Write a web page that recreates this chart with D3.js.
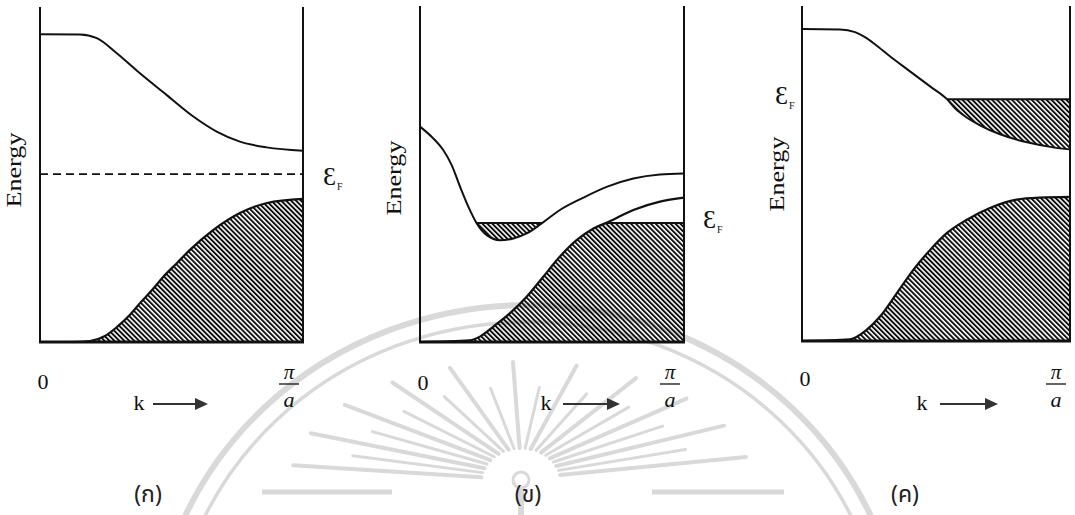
<!DOCTYPE html>
<html>
<head>
<meta charset="utf-8">
<script src="https://cdn.jsdelivr.net/npm/d3@7/dist/d3.min.js"></script>
<style>
  html, body { margin: 0; padding: 0; background: #fff; }
  svg { display: block; }
  .serif { font-family: "Liberation Serif", "Times New Roman", serif; fill: #111; }
  .thai { font-family: "Noto Sans Thai", "Noto Sans", "DejaVu Sans", sans-serif; fill: #222; }
</style>
</head>
<body>
<svg id="chart"></svg>
<script>
const width = 1075;
const height = 515;

// band curves as [k (0..pi/a, normalised), energy (arbitrary units, 0..10)]
const bandA_upper = [[0, 9.19], [0.152, 9.18], [0.216, 9.07], [0.292, 8.62], [0.380, 8.02], [0.482, 7.37],
  [0.583, 6.73], [0.672, 6.28], [0.760, 5.98], [0.862, 5.81], [1, 5.71]];
const bandA_lower = [[0, 0], [0.114, 0], [0.19, 0.03], [0.247, 0.18], [0.293, 0.45], [0.342, 0.81], [0.38, 1.16],
  [0.426, 1.55], [0.468, 1.94], [0.521, 2.36], [0.57, 2.75], [0.658, 3.34], [0.76, 3.85], [0.863, 4.15], [1, 4.27]];
const fermiA = 5.01;

const bandB_upper = [[0, 6.43], [0.05, 6.08], [0.088, 5.73], [0.12, 5.28], [0.152, 4.63], [0.183, 4.04], [0.215, 3.54],
  [0.253, 3.19], [0.303, 3.04], [0.354, 3.09], [0.404, 3.24], [0.461, 3.54], [0.53, 3.94], [0.619, 4.31],
  [0.707, 4.63], [0.808, 4.88], [0.909, 5.0], [1, 5.03]];
const bandB_lower = [[0, 0], [0.189, 0.05], [0.227, 0.16], [0.278, 0.46], [0.341, 0.86], [0.404, 1.35], [0.467, 1.95],
  [0.53, 2.55], [0.593, 3.04], [0.657, 3.39], [0.713, 3.58], [0.808, 3.94], [0.909, 4.19], [1, 4.31]];
const fermiB = 3.55;

const bandC_upper = [[0, 9.31], [0.142, 9.30], [0.198, 9.22], [0.235, 9.07], [0.272, 8.86], [0.328, 8.50], [0.403, 8.05],
  [0.478, 7.60], [0.541, 7.22], [0.571, 6.95], [0.608, 6.71], [0.664, 6.44], [0.739, 6.17], [0.84, 5.93],
  [0.937, 5.78], [1, 5.72]];
const bandC_lower = [[0, 0], [0.179, 0.05], [0.241, 0.33], [0.291, 0.73], [0.354, 1.43], [0.416, 2.13], [0.478, 2.72],
  [0.54, 3.22], [0.615, 3.62], [0.701, 3.97], [0.8, 4.22], [0.888, 4.28], [1, 4.30]];
const fermiC = 7.22;

const panelNames = ["(ก)", "(ข)", "(ค)"];
const axisLabel = "Energy";
const kLabel = "k";

// layout of the three frames (pixels)
const panels = [
  { id: "A", left: 40, right: 303, top: 7, bottom: 342, upper: bandA_upper, lower: bandA_lower, fermi: fermiA, mode: "gap",
    energyX: 21, energyY: 170, efX: 323, efY: 185, zeroY: 389, kX: 139, arrow: [153, 208], nameX: 148 },
  { id: "B", left: 420, right: 684, top: 6, bottom: 342, upper: bandB_upper, lower: bandB_lower, fermi: fermiB, mode: "overlap",
    energyX: 401, energyY: 178, efX: 703, efY: 228, zeroY: 390, kX: 546, arrow: [563, 620], nameX: 528 },
  { id: "C", left: 802, right: 1070, top: 6, bottom: 341, upper: bandC_upper, lower: bandC_lower, fermi: fermiC, mode: "upper",
    energyX: 784, energyY: 174, efX: 775, efY: 104, zeroY: 386, kX: 922, arrow: [940, 998], nameX: 905 }
];

const svg = d3.select("#chart").attr("width", width).attr("height", height);
const defs = svg.append("defs");

defs.append("pattern")
  .attr("id", "hatch")
  .attr("patternUnits", "userSpaceOnUse")
  .attr("width", 3.5).attr("height", 3.5)
  .attr("patternTransform", "rotate(-45)")
  .append("rect")
  .attr("x", 0).attr("y", 0).attr("width", 1.9).attr("height", 3.5)
  .attr("fill", "#0d0d0d");

// faint emblem watermark in the background
const mark = svg.append("g").attr("fill", "none").attr("stroke", "#d9d9d9");
mark.append("ellipse").attr("cx", 528).attr("cy", 660).attr("rx", 375).attr("ry", 355).attr("stroke-width", 6);
mark.append("ellipse").attr("cx", 528).attr("cy", 660).attr("rx", 357).attr("ry", 338).attr("stroke-width", 3.5);
const rayAngles = d3.range(188, 353, 8);
rayAngles.forEach((a, i) => {
  const t = a * Math.PI / 180;
  const long = i % 2 === 0;
  const rx = long ? 230 : 175, ry = long ? 120 : 95;
  mark.append("line")
    .attr("x1", 521 + 40 * Math.cos(t)).attr("y1", 482 + 34 * Math.sin(t))
    .attr("x2", 521 + rx * Math.cos(t)).attr("y2", 482 + ry * Math.sin(t))
    .attr("stroke-width", long ? 4 : 3).attr("stroke-linecap", "round");
});
mark.append("line").attr("x1", 262).attr("y1", 492).attr("x2", 392).attr("y2", 492).attr("stroke-width", 5);
mark.append("line").attr("x1", 652).attr("y1", 492).attr("x2", 784).attr("y2", 492).attr("stroke-width", 5);
mark.append("circle").attr("cx", 521).attr("cy", 480).attr("r", 8).attr("stroke-width", 3);
mark.append("line").attr("x1", 521).attr("y1", 488).attr("x2", 521).attr("y2", 515).attr("stroke-width", 6);

function crossings(pts, level) {
  const out = [];
  for (let i = 1; i < pts.length; i++) {
    const [k0, e0] = pts[i - 1], [k1, e1] = pts[i];
    if ((e0 - level) * (e1 - level) < 0 || (e1 === level && i < pts.length - 1)) {
      out.push(k0 + (k1 - k0) * (level - e0) / (e1 - e0));
    }
  }
  return out;
}

panels.forEach((p, pi) => {
  const x = d3.scaleLinear().domain([0, 1]).range([p.left, p.right]);
  const y = d3.scaleLinear().domain([0, 10]).range([p.bottom, p.bottom - 335]);
  const g = svg.append("g");
  const fy = y(p.fermi);

  const line = d3.line().x(d => x(d[0])).y(d => y(d[1])).curve(d3.curveMonotoneX);
  const areaToZero = d3.area().x(d => x(d[0])).y0(y(0)).y1(d => y(d[1])).curve(d3.curveMonotoneX);
  const areaToFermi = d3.area().x(d => x(d[0])).y0(fy).y1(d => y(d[1])).curve(d3.curveMonotoneX);

  // clip region: everything below the Fermi level
  defs.append("clipPath").attr("id", "below" + p.id)
    .append("rect").attr("x", p.left).attr("y", fy + 0.8).attr("width", p.right - p.left).attr("height", p.bottom - fy);

  // lower band, filled up to its top or to the Fermi level
  g.append("path").datum(p.lower)
    .attr("d", areaToZero)
    .attr("fill", "url(#hatch)")
    .attr("clip-path", p.mode === "overlap" ? "url(#belowB)" : null);

  if (p.mode === "overlap") {
    // pocket of the upper band that dips under the Fermi level
    g.append("path").datum(p.upper)
      .attr("d", areaToFermi)
      .attr("fill", "url(#hatch)")
      .attr("clip-path", "url(#belowB)");
    const cu = crossings(p.upper, p.fermi);
    const cl = crossings(p.lower, p.fermi);
    g.append("line").attr("x1", x(cu[0])).attr("x2", x(cu[1])).attr("y1", fy).attr("y2", fy)
      .attr("stroke", "#111").attr("stroke-width", 2);
    g.append("line").attr("x1", x(cl[0])).attr("x2", p.right).attr("y1", fy).attr("y2", fy)
      .attr("stroke", "#111").attr("stroke-width", 2);
  }

  if (p.mode === "upper") {
    g.append("path").datum(p.upper)
      .attr("d", areaToFermi)
      .attr("fill", "url(#hatch)")
      .attr("clip-path", "url(#belowC)");
    const cu = crossings(p.upper, p.fermi);
    g.append("line").attr("x1", x(cu[0])).attr("x2", p.right).attr("y1", fy).attr("y2", fy)
      .attr("stroke", "#111").attr("stroke-width", 2);
  }

  if (p.mode === "gap") {
    g.append("line").attr("x1", p.left).attr("x2", p.right).attr("y1", fy).attr("y2", fy)
      .attr("stroke", "#111").attr("stroke-width", 1.6).attr("stroke-dasharray", "8,5");
  }

  g.append("path").datum(p.upper).attr("d", line)
    .attr("fill", "none").attr("stroke", "#111").attr("stroke-width", 2);
  g.append("path").datum(p.lower).attr("d", line)
    .attr("fill", "none").attr("stroke", "#111").attr("stroke-width", 2.2);

  // frame: two verticals and the k axis
  g.append("line").attr("x1", p.left).attr("x2", p.left).attr("y1", p.top).attr("y2", p.bottom)
    .attr("stroke", "#111").attr("stroke-width", 2);
  g.append("line").attr("x1", p.right).attr("x2", p.right).attr("y1", p.top).attr("y2", p.bottom)
    .attr("stroke", "#111").attr("stroke-width", 2);
  g.append("line").attr("x1", p.left - 1).attr("x2", p.right + 1).attr("y1", p.bottom).attr("y2", p.bottom)
    .attr("stroke", "#111").attr("stroke-width", 3);

  // labels
  g.append("text").attr("class", "serif")
    .attr("transform", `translate(${p.energyX},${p.energyY}) rotate(-90)`)
    .attr("text-anchor", "middle").attr("font-size", 20)
    .attr("textLength", 75).attr("lengthAdjust", "spacingAndGlyphs")
    .text(axisLabel);

  const ef = g.append("text").attr("class", "serif")
    .attr("x", p.efX).attr("y", p.efY).attr("font-size", 26).text("Ɛ");
  ef.append("tspan").attr("font-size", 10).attr("dy", 5).attr("dx", 1).text("F");

  g.append("text").attr("class", "serif").attr("x", x(0) + 3).attr("y", p.zeroY)
    .attr("text-anchor", "middle").attr("font-size", 22).text("0");

  const cx = x(1) - 14;
  g.append("text").attr("class", "serif").attr("x", cx).attr("y", 379)
    .attr("text-anchor", "middle").attr("font-size", 21).attr("font-style", "italic").text("π");
  g.append("line").attr("x1", cx - 10).attr("x2", cx + 10).attr("y1", 384).attr("y2", 384)
    .attr("stroke", "#111").attr("stroke-width", 1.3);
  g.append("text").attr("class", "serif").attr("x", cx).attr("y", 407)
    .attr("text-anchor", "middle").attr("font-size", 22).attr("font-style", "italic").text("a");

  g.append("text").attr("class", "serif").attr("x", p.kX).attr("y", 410)
    .attr("text-anchor", "middle").attr("font-size", 22).text(kLabel);
  const [a0, a1] = p.arrow;
  g.append("line").attr("x1", a0).attr("x2", a1 - 10).attr("y1", 404).attr("y2", 404)
    .attr("stroke", "#333").attr("stroke-width", 2);
  g.append("path").attr("d", `M${a1 - 13},398 L${a1},404 L${a1 - 13},410 Z`).attr("fill", "#333");

  g.append("text").attr("class", "thai").attr("x", p.nameX).attr("y", 502)
    .attr("text-anchor", "middle").attr("font-size", 23).text(panelNames[pi]);
});
</script>
</body>
</html>
